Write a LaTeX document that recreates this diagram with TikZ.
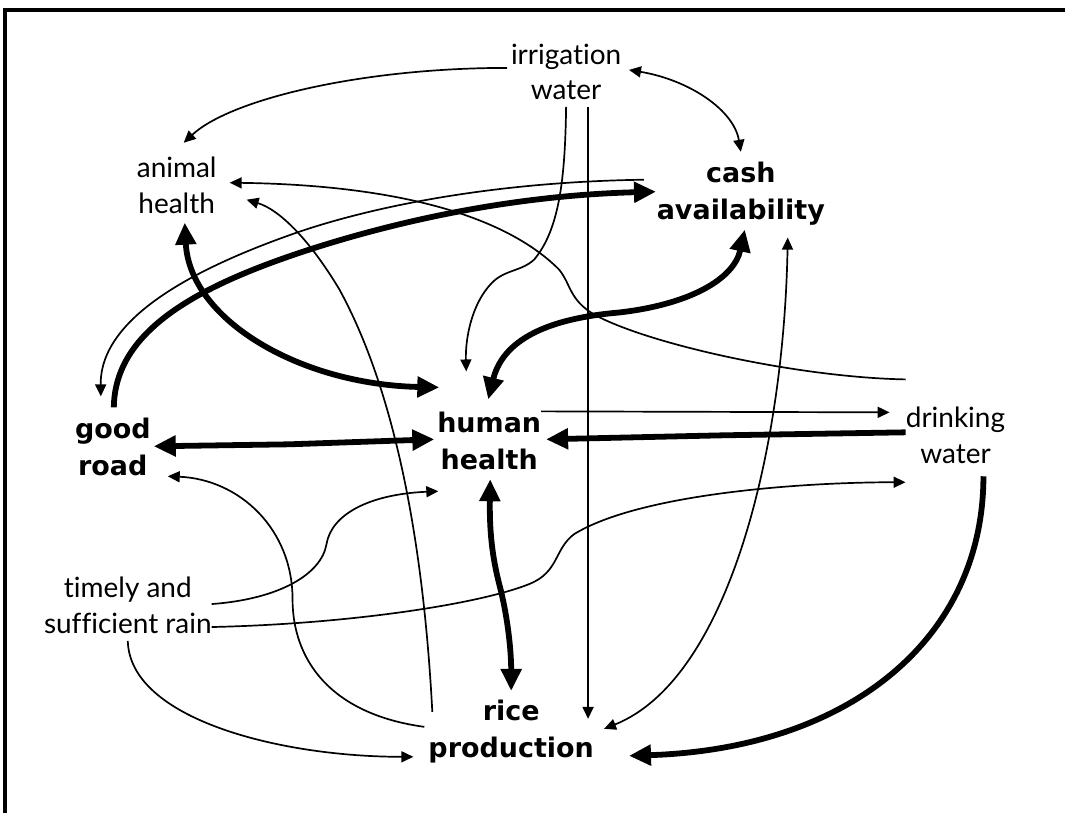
\documentclass[tikz,border=0pt]{standalone}
\usepackage{fontspec}
\setmainfont{Lato}[Ligatures=NoCommon]
\newfontfamily\heavysans{DejaVu Sans}
\usetikzlibrary{arrows.meta}
\begin{document}
\begin{tikzpicture}[x=0.5pt,y=-0.5pt,
        factor/.style={align=center,inner sep=0pt,font=\fontsize{14}{18}\selectfont},
        keyfactor/.style={align=center,inner sep=0pt,font=\heavysans\bfseries\fontsize{13.5}{18.5}\selectfont},
        thinlink/.style={line width=0.85pt,>={Triangle[length=6pt,width=5.5pt]}},
        thicklink/.style={line width=2.9pt,>={Triangle[length=11pt,width=10pt]}}]
    \fill[white] (0,0) rectangle (1067,814);
    \draw[line width=1.7pt] (5,814) -- (5,10) -- (1067,10);

    \node[factor]    (irr)    at (567,72)  {irrigation\\water};
    \node[factor]    (animal) at (177,186) {animal\\health};
    \node[keyfactor] (cash)   at (742,194) {cash\\availability};
    \node[keyfactor] (road)   at (113,448) {good\\road};
    \node[keyfactor] (human)  at (490,442) {human\\health};
    \node[factor]    (drink)  at (957,436) {drinking\\water};
    \node[factor]    (rain)   at (128,606) {timely and\\sufficient rain};
    \node[keyfactor] (rice)   at (512,733) {rice\\production};

    \draw[thinlink,->] ([shift={(-59,-4)}]irr.center) .. controls (360,68) and (230,100) .. ([shift={(7,-43)}]animal.center);
    \draw[thinlink,<->] ([shift={(63,-2)}]irr.center) .. controls (690,80) and (735,110) .. ([shift={(0,-42)}]cash.center);
    \draw[thinlink,->] ([shift={(0,35)}]irr.center) .. controls (566,180) and (560,230) .. (535,260)
        .. controls (522,272) and (505,270) .. (492,284) .. controls (472,305) and (466,340) .. ([shift={(-23,-70)}]human.center);
    \draw[thinlink,->] ([shift={(22,35)}]irr.center) -- ([shift={(77,-13)}]rice.center);

    \draw[thicklink,->] ([shift={(1,-40)}]road.center) .. controls (115,330) and (200,285) .. (316,248)
        .. controls (430,212) and (540,195) .. ([shift={(-85,-2)}]cash.center);
    \draw[thinlink,->] ([shift={(-97,-14)}]cash.center) .. controls (500,182) and (380,205) .. (300,232)
        .. controls (190,270) and (100,320) .. ([shift={(-12,-51)}]road.center);

    \draw[thicklink,<->] ([shift={(8,37)}]animal.center) .. controls (190,320) and (300,385) .. ([shift={(-50,-54)}]human.center);
    \draw[thicklink,<->] ([shift={(-1,-42)}]human.center) .. controls (505,335) and (560,318) .. (620,313)
        .. controls (690,305) and (735,280) .. ([shift={(4,36)}]cash.center);
    \draw[thicklink,<->] ([shift={(41,-1)}]road.center) -- (290,445) -- ([shift={(-55,-2)}]human.center);

    \draw[thinlink,->] ([shift={(52,-30)}]human.center) -- ([shift={(-66,-23)}]drink.center);
    \draw[thicklink,->] ([shift={(-50,-3)}]drink.center) -- (724,436) -- ([shift={(57,-2)}]human.center);
    \draw[thinlink,->] ([shift={(-50,-56)}]drink.center) .. controls (800,378) and (650,345) .. (595,315)
        .. controls (570,300) and (572,285) .. (560,270) .. controls (500,210) and (380,185) .. ([shift={(53,-3)}]animal.center);

    \draw[thinlink,->] ([shift={(-79,-20)}]rice.center) .. controls (425,560) and (400,400) .. (340,290)
        .. controls (310,240) and (280,210) .. ([shift={(70,14)}]animal.center);
    \draw[thinlink,->] ([shift={(-87,-5)}]rice.center) .. controls (330,715) and (293,660) .. (293,600)
        .. controls (293,530) and (240,480) .. ([shift={(55,29)}]road.center);

    \draw[thinlink,->] ([shift={(0,36)}]rain.center) .. controls (130,720) and (280,758) .. ([shift={(-98,25)}]rice.center);
    \draw[thinlink,->] ([shift={(84,-1)}]rain.center) .. controls (280,600) and (322,575) .. (327,545)
        .. controls (332,515) and (370,495) .. ([shift={(-51,50)}]human.center);
    \draw[thinlink,->] ([shift={(84,22)}]rain.center) .. controls (350,625) and (480,605) .. (530,585)
        .. controls (560,573) and (555,550) .. (575,535) .. controls (640,495) and (800,483) .. ([shift={(-50,47)}]drink.center);

    \draw[thicklink,->] ([shift={(28,41)}]drink.center) .. controls (985,640) and (850,750) .. ([shift={(118,24)}]rice.center);
    \draw[thicklink,<->] ([shift={(1,38)}]human.center) .. controls (490,540) and (495,565) .. (500,585)
        .. controls (508,615) and (512,650) .. ([shift={(0,-41)}]rice.center);
    \draw[thinlink,<->] ([shift={(47,44)}]cash.center) .. controls (785,450) and (730,680) .. ([shift={(93,-3)}]rice.center);
\end{tikzpicture}
\end{document}
